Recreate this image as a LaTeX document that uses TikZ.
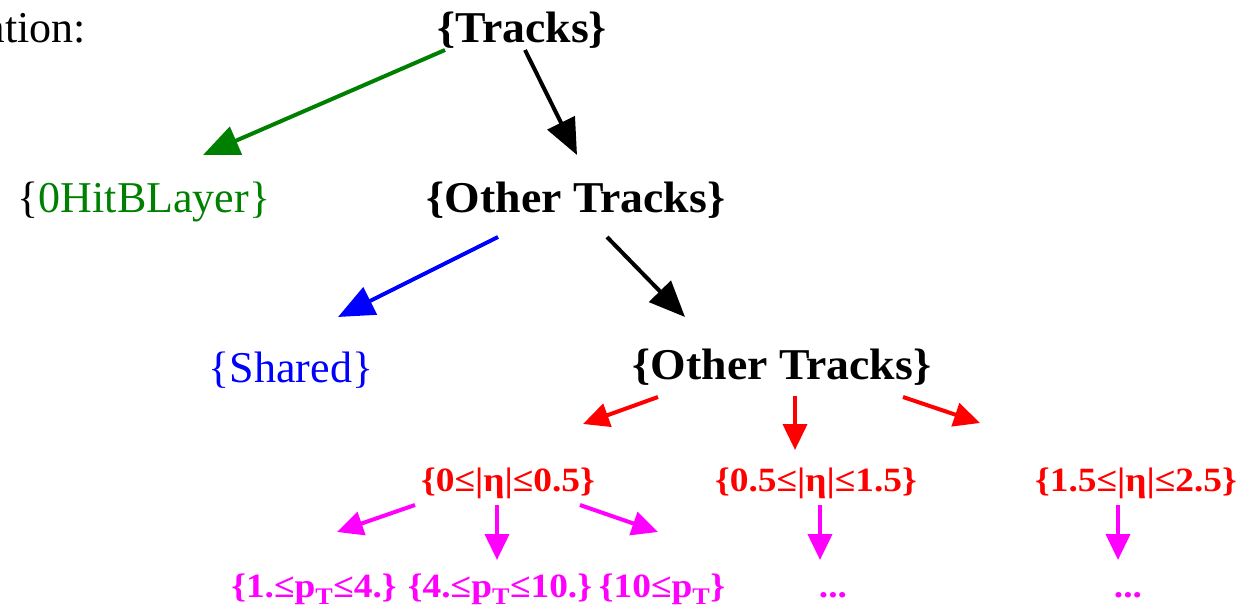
\documentclass[tikz,border=0pt]{standalone}
\usepackage{fontspec}
\setmainfont{Liberation Serif}
\usetikzlibrary{arrows.meta}
\definecolor{cutgreen}{RGB}{0,128,0}
\definecolor{binpink}{RGB}{255,0,255}
\tikzset{
  bigtext/.style={anchor=base, inner sep=0pt, font=\fontsize{44}{50}\selectfont},
  boldtext/.style={bigtext, font=\fontsize{44}{50}\selectfont\bfseries\addfontfeature{FakeStretch=1.04}},
  bintext/.style={anchor=base, inner sep=0pt, font=\fontsize{34}{40}\selectfont\bfseries\addfontfeature{FakeStretch=1.1}},
  cutarrow/.style={line width=4pt, -{Triangle[length=36pt,width=30pt]}},
  binarrow/.style={line width=4pt, -{Triangle[length=26pt,width=24pt]}},
}
\begin{document}
\begin{tikzpicture}[x=1pt,y=-1pt]
\useasboundingbox (0,0) rectangle (1255,607);
% Cortes sobre las trazas
\node[bigtext, anchor=base east] (intro) at (86,43) {ation:};
\node[boldtext] (tracks) at (522,43) {\{Tracks\}};
\node[bigtext] (hitb) at (144,212) {\{\textcolor{cutgreen}{0HitBLayer\}}};
\node[boldtext] (other) at (576,212) {\{Other Tracks\}};
\node[bigtext, blue] (shared) at (291,382) {\{Shared\}};
\node[boldtext] (rest) at (782,379) {\{Other Tracks\}};
% Bins en eta y pT
\node[bintext, red] (eta1) at (508,491) {\{0≤|η|≤0.5\}};
\node[bintext, red] (eta2) at (816,491) {\{0.5≤|η|≤1.5\}};
\node[bintext, red] (eta3) at (1136,491) {\{1.5≤|η|≤2.5\}};
\node[bintext, binpink] (pt1) at (314,597) {\{1.≤p\textsubscript{T}≤4.\}};
\node[bintext, binpink] (pt2) at (500,597) {\{4.≤p\textsubscript{T}≤10.\}};
\node[bintext, binpink] (pt3) at (662,597) {\{10≤p\textsubscript{T}\}};
\node[bintext, binpink] (more2) at (833,597) {...};
\node[bintext, binpink] (more3) at (1128,597) {...};
% Extremos de las flechas
\coordinate (tracks-l) at (445,50);
\coordinate (tracks-r) at (525,50);
\coordinate (hitb-in) at (203,155);
\coordinate (other-in) at (577,155);
\coordinate (other-l) at (498,237);
\coordinate (other-r) at (607,237);
\coordinate (shared-in) at (338,317);
\coordinate (rest-in) at (685,317);
\coordinate (rest-l) at (658,397);
\coordinate (rest-m) at (795,396);
\coordinate (rest-r) at (903,397);
\coordinate (eta1-in) at (583,424);
\coordinate (eta2-in) at (795,450);
\coordinate (eta3-in) at (980,423);
\coordinate (eta1-l) at (415,505);
\coordinate (eta1-m) at (497,505);
\coordinate (eta1-r) at (580,505);
\coordinate (eta2-m) at (820,505);
\coordinate (eta3-m) at (1118,505);
\coordinate (pt1-in) at (337,532);
\coordinate (pt2-in) at (497,560);
\coordinate (pt3-in) at (658,532);
\coordinate (more2-in) at (820,560);
\coordinate (more3-in) at (1118,560);
\draw[cutarrow, cutgreen] (tracks-l) -- (hitb-in);
\draw[cutarrow, black] (tracks-r) -- (other-in);
\draw[cutarrow, blue] (other-l) -- (shared-in);
\draw[cutarrow, black] (other-r) -- (rest-in);
\draw[binarrow, red] (rest-l) -- (eta1-in);
\draw[binarrow, red] (rest-m) -- (eta2-in);
\draw[binarrow, red] (rest-r) -- (eta3-in);
\draw[binarrow, binpink] (eta1-l) -- (pt1-in);
\draw[binarrow, binpink] (eta1-m) -- (pt2-in);
\draw[binarrow, binpink] (eta1-r) -- (pt3-in);
\draw[binarrow, binpink] (eta2-m) -- (more2-in);
\draw[binarrow, binpink] (eta3-m) -- (more3-in);
\end{tikzpicture}
\end{document}
